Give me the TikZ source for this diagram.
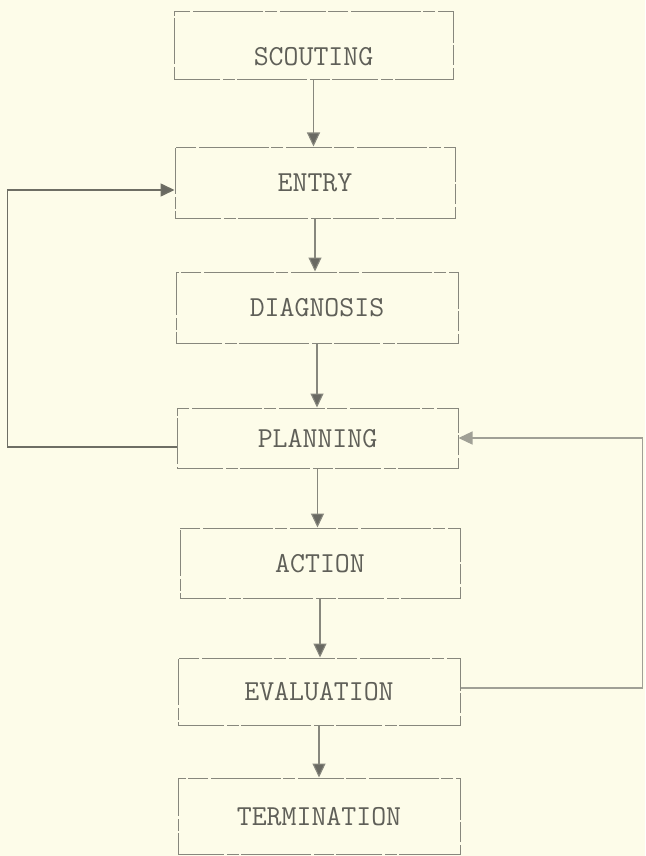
\documentclass[tikz,border=0pt]{standalone}
\usepackage{fontspec}
\usetikzlibrary{arrows.meta}
\definecolor{paper}{RGB}{253,252,233}
\definecolor{ink}{RGB}{95,95,88}
\definecolor{linec}{RGB}{135,135,125}
\definecolor{loopc}{RGB}{110,110,100}
\definecolor{headc}{RGB}{105,105,98}
\definecolor{faintc}{RGB}{160,160,150}
\begin{document}
\begin{tikzpicture}[x=1pt,y=-1pt,
  stage/.style={draw=linec, line width=1pt, inner sep=0pt,
    dash pattern=on 46pt off 3pt on 12pt off 2pt on 70pt off 3pt on 20pt off 2pt,
    font=\ttfamily\fontsize{29}{32}\selectfont, text=ink,
    text height=18pt, text depth=0pt},
  flow/.style={draw=linec, line width=1.1pt,
    -{Triangle[width=13pt,length=14pt,fill=headc]}},
  backloop/.style={draw=loopc, line width=1.6pt,
    -{Triangle[width=13pt,length=14pt,fill=headc]}},
  sideloop/.style={draw=faintc, line width=1.2pt,
    -{Triangle[width=13pt,length=14pt,fill=faintc]}}]
\fill[paper] (0,0) rectangle (645,856);
\useasboundingbox (0,0) rectangle (645,856);

\node[stage, minimum width=279pt, minimum height=68pt, text height=40pt] (scout) at (313.5,46) {SCOUTING};
\node[stage, minimum width=280pt, minimum height=71pt] (entry) at (315,182.5) {ENTRY};
\node[stage, minimum width=282pt, minimum height=71pt] (diag) at (317,307.5) {DIAGNOSIS};
\node[stage, minimum width=281pt, minimum height=60pt] (plan) at (317.5,438) {PLANNING};
\node[stage, minimum width=280pt, minimum height=70pt] (action) at (320,563) {ACTION};
\node[stage, minimum width=282pt, minimum height=67pt] (eval) at (319,691.5) {EVALUATION};
\node[stage, minimum width=282pt, minimum height=76pt] (term) at (319,816) {TERMINATION};

\draw[flow] (scout.south) -- (scout.south |- entry.north);
\draw[flow] (entry.south) -- (entry.south |- diag.north);
\draw[flow] (diag.south) -- (diag.south |- plan.north);
\draw[flow] (plan.south) -- (plan.south |- action.north);
\draw[flow] (action.south) -- (action.south |- eval.north);
\draw[flow] (eval.south) -- (eval.south |- term.north);

\draw[backloop] ([yshift=-9pt]plan.west) -- ++(-169,0) |- ([yshift=-7.5pt]entry.west);
\draw[sideloop] ([yshift=3.5pt]eval.east) -- ++(182,0) |- (plan.east);
\end{tikzpicture}
\end{document}
